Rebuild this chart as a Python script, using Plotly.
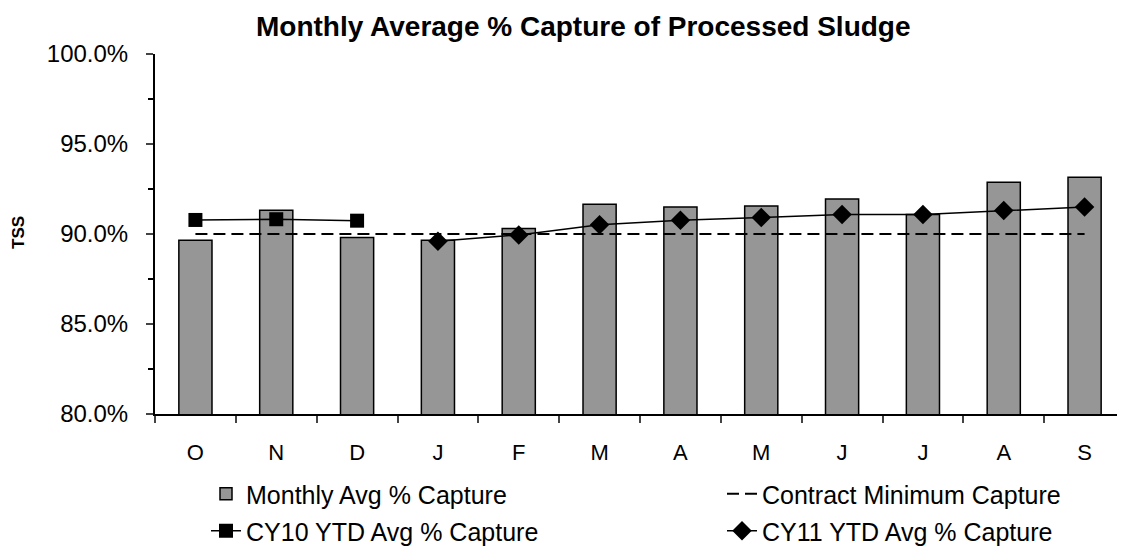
"""Monthly average % capture of processed sludge - bar + line combo."""

import plotly.graph_objects as go

months = ["Oct", "Nov", "Dec", "Jan", "Feb", "Mar", "Apr", "May", "Jun", "Jul", "Aug", "Sep"]
month_labels = ["O", "N", "D", "J", "F", "M", "A", "M", "J", "J", "A", "S"]

monthly_capture = [89.65, 91.32, 89.80, 89.65, 90.30, 91.65, 91.50, 91.55, 91.95, 91.08, 92.87, 93.15]
contract_min = [90.0] * 12
cy10_ytd = [90.78, 90.82, 90.74, None, None, None, None, None, None, None, None, None]
cy11_ytd = [None, None, None, 89.60, 89.95, 90.52, 90.76, 90.92, 91.09, 91.09, 91.31, 91.50]

FONT = "Liberation Sans, Arial, sans-serif"

# the page body has an 8px margin, so the figure is shrunk by that much
OFF = 8
W, H = 1125 - OFF, 548 - OFF
L, R, T, B = 147, 0, 46, 134
PW, PH = W - L - R, H - T - B


def px_x(x):
    # screen pixel -> paper coordinate
    return (x - OFF - L) / PW


def px_y(y):
    return (H - B - (y - OFF)) / PH


fig = go.Figure()
fig.add_trace(
    go.Bar(
        x=months,
        y=monthly_capture,
        name="Monthly Avg % Capture",
        marker=dict(color="#969696", line=dict(color="black", width=1.5)),
        width=0.41,
        legend="legend",
    )
)
fig.add_trace(
    go.Scatter(
        x=months,
        y=contract_min,
        mode="lines",
        name="Contract Minimum Capture",
        line=dict(color="black", width=2, dash="12px,6px"),
        legend="legend2",
    )
)
fig.add_trace(
    go.Scatter(
        x=months,
        y=cy10_ytd,
        mode="lines+markers",
        name="CY10 YTD Avg % Capture",
        line=dict(color="black", width=1.5),
        marker=dict(symbol="square", size=14, color="black"),
        legend="legend3",
    )
)
fig.add_trace(
    go.Scatter(
        x=months,
        y=cy11_ytd,
        mode="lines+markers",
        name="CY11 YTD Avg % Capture",
        line=dict(color="black", width=1.5),
        marker=dict(symbol="diamond", size=15, color="black"),
        legend="legend4",
    )
)

legend_common = dict(
    xanchor="left",
    yanchor="middle",
    font=dict(family=FONT, size=25, color="black"),
    bgcolor="rgba(0,0,0,0)",
    borderwidth=0,
)

fig.update_layout(
    width=W,
    height=H,
    margin=dict(l=L, r=R, t=T, b=B, autoexpand=False),
    plot_bgcolor="white",
    paper_bgcolor="white",
    font=dict(family=FONT, size=22, color="black"),
    showlegend=True,
    legend=dict(x=px_x(206), y=px_y(494), **legend_common),
    legend2=dict(x=px_x(722), y=px_y(494), **legend_common),
    legend3=dict(x=px_x(206), y=px_y(531), **legend_common),
    legend4=dict(x=px_x(722), y=px_y(531), **legend_common),
    annotations=[
        dict(
            text="<b>Monthly Average % Capture of Processed Sludge</b>",
            x=px_x(583), y=px_y(26), xref="paper", yref="paper",
            xanchor="center", yanchor="middle",
            showarrow=False, font=dict(size=28),
        ),
        dict(
            text="<b>TSS</b>",
            x=px_x(18), y=px_y(233), xref="paper", yref="paper",
            xanchor="center", yanchor="middle",
            textangle=-90, showarrow=False, font=dict(size=17),
        ),
    ],
)

fig.update_yaxes(
    range=[80, 100],
    dtick=5,
    tickformat=".1f",
    ticksuffix="%",
    ticks="outside",
    ticklen=7,
    tickwidth=2,
    ticklabelstandoff=13,
    showline=True,
    linecolor="black",
    linewidth=2,
    showgrid=False,
    zeroline=False,
    minor=dict(dtick=2.5, ticks="outside", ticklen=5, tickwidth=2, tickcolor="black", showgrid=False),
    tickfont=dict(size=24),
)
fig.update_xaxes(
    type="category",
    range=[-0.5, len(months) - 0.5],
    tickmode="array",
    tickvals=months,
    ticktext=month_labels,
    tickson="boundaries",
    ticks="outside",
    ticklen=7,
    tickwidth=2,
    ticklabelstandoff=18,
    showline=True,
    linecolor="black",
    linewidth=2,
    showgrid=False,
    tickfont=dict(size=22),
)

fig.write_html("out.html")
